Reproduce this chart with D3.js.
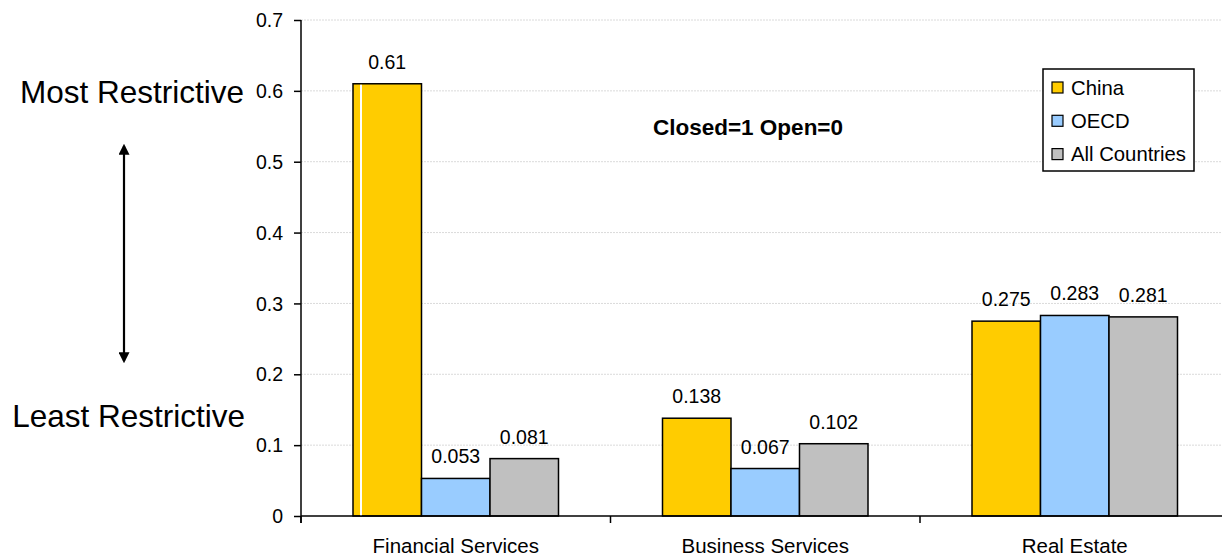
<!DOCTYPE html>
<html>
<head>
<meta charset="utf-8">
<script src="https://cdn.jsdelivr.net/npm/d3@7"></script>
<style>
  body { margin: 0; background: #fff; }
  svg text { font-family: "Liberation Sans", Arial, sans-serif; fill: #000; }
</style>
</head>
<body>
<div id="chart"></div>
<script>
// data
const categories = ["Financial Services", "Business Services", "Real Estate"];
const seriesNames = ["China", "OECD", "All Countries"];
const china = [0.61, 0.138, 0.275];
const oecd = [0.053, 0.067, 0.283];
const allCountries = [0.081, 0.102, 0.281];
const yTicks = [0, 0.1, 0.2, 0.3, 0.4, 0.5, 0.6, 0.7];
const colors = ["#FFCC00", "#99CCFF", "#C0C0C0"];

const seriesValues = [china, oecd, allCountries];
const rows = categories.map((c, i) => ({
    cat: c,
    vals: seriesNames.map((s, j) => ({series: s, value: seriesValues[j][i]}))
}));

const width = 1222, height = 557;
const svg = d3.select("#chart").append("svg")
    .attr("width", width)
    .attr("height", height);

// scales
const xScale = d3.scaleBand()
    .domain(categories)
    .range([301, 1229.5]);
const xInner = d3.scaleBand()
    .domain(seriesNames)
    .range([52, xScale.bandwidth() - 52]);
const yScale = d3.scaleLinear()
    .domain([0, 0.7])
    .range([516, 20]);

// gridlines
svg.append("g")
    .selectAll("line")
    .data(yTicks.filter(d => d > 0))
    .join("line")
    .attr("x1", 301).attr("x2", width)
    .attr("y1", d => yScale(d)).attr("y2", d => yScale(d))
    .attr("stroke", "#dadada")
    .attr("stroke-dasharray", "2,1");

// bars
const groups = svg.append("g").selectAll("g")
    .data(rows)
    .join("g")
    .attr("transform", d => "translate(" + xScale(d.cat) + ",0)");

groups.selectAll("rect")
    .data(d => d.vals)
    .join("rect")
    .attr("x", d => xInner(d.series))
    .attr("y", d => yScale(d.value))
    .attr("width", xInner.bandwidth())
    .attr("height", d => yScale(0) - yScale(d.value))
    .attr("fill", (d, i) => colors[i])
    .attr("stroke", "#000")
    .attr("stroke-width", 1.5);

// value labels
groups.selectAll("text")
    .data(d => d.vals)
    .join("text")
    .attr("x", d => xInner(d.series) + xInner.bandwidth() / 2)
    .attr("y", d => yScale(d.value) - 15)
    .attr("text-anchor", "middle")
    .style("font-size", "19.5px")
    .text(d => String(d.value));

// white streak inside the first China bar, as in the original image
svg.append("line")
    .attr("x1", xScale(categories[0]) + xInner("China") + 8)
    .attr("x2", xScale(categories[0]) + xInner("China") + 8)
    .attr("y1", yScale(china[0]) + 1)
    .attr("y2", yScale(0))
    .attr("stroke", "#fff")
    .attr("stroke-width", 2);

// y axis
const yAxis = svg.append("g")
    .attr("transform", "translate(301,0)")
    .call(d3.axisLeft(yScale).tickValues(yTicks).tickFormat(d => d === 0 ? "0" : d3.format(".1f")(d)).tickSize(7).tickPadding(11));
yAxis.select(".domain").attr("stroke", "#000").attr("stroke-width", 1.5)
    .attr("d", "M0," + yScale(0.7) + "V" + (yScale(0) + 7));
yAxis.selectAll(".tick line").attr("stroke", "#000").attr("stroke-width", 1.5);
yAxis.selectAll(".tick text").style("font-size", "19.5px").attr("dy", "0.34em");

// x axis with ticks between groups
const xEdges = categories.map(c => xScale(c)).concat([xScale.range()[1]]);
svg.append("line")
    .attr("x1", 301).attr("x2", width)
    .attr("y1", yScale(0)).attr("y2", yScale(0))
    .attr("stroke", "#000").attr("stroke-width", 1.5);
svg.append("g").selectAll("line")
    .data(xEdges)
    .join("line")
    .attr("x1", d => d).attr("x2", d => d)
    .attr("y1", yScale(0)).attr("y2", yScale(0) + 7)
    .attr("stroke", "#000").attr("stroke-width", 1.5);
svg.append("g").selectAll("text")
    .data(categories)
    .join("text")
    .attr("x", d => xScale(d) + xScale.bandwidth() / 2)
    .attr("y", 553)
    .attr("text-anchor", "middle")
    .style("font-size", "20.5px")
    .text(d => d);

// note
svg.append("text")
    .attr("x", 748).attr("y", 135)
    .attr("text-anchor", "middle")
    .style("font-size", "22.5px")
    .style("font-weight", "bold")
    .text("Closed=1 Open=0");

// legend
const legend = svg.append("g");
legend.append("rect")
    .attr("x", 1043).attr("y", 69)
    .attr("width", 151).attr("height", 102)
    .attr("fill", "#fff")
    .attr("stroke", "#000").attr("stroke-width", 1.5);
const items = legend.selectAll("g")
    .data(seriesNames)
    .join("g")
    .attr("transform", (d, i) => "translate(1052," + (82 + i * 33.3) + ")");
items.append("rect")
    .attr("width", 11).attr("height", 11)
    .attr("fill", (d, i) => colors[i])
    .attr("stroke", "#000").attr("stroke-width", 1.2);
items.append("text")
    .attr("x", 19).attr("y", 12.5)
    .style("font-size", "20.3px")
    .text(d => d);

// side annotation
svg.append("text")
    .attr("x", 244).attr("y", 103)
    .attr("text-anchor", "end")
    .style("font-size", "31.5px")
    .text("Most Restrictive");
svg.append("text")
    .attr("x", 245).attr("y", 427)
    .attr("text-anchor", "end")
    .style("font-size", "31.5px")
    .text("Least Restrictive");

const defs = svg.append("defs");
defs.append("marker")
    .attr("id", "head")
    .attr("viewBox", "0 0 10 10")
    .attr("refX", 8).attr("refY", 5)
    .attr("markerWidth", 5).attr("markerHeight", 5)
    .attr("orient", "auto-start-reverse")
    .append("path")
    .attr("d", "M0,0L10,5L0,10Z")
    .attr("fill", "#000");
svg.append("line")
    .attr("x1", 124).attr("x2", 124)
    .attr("y1", 146).attr("y2", 361)
    .attr("stroke", "#000").attr("stroke-width", 2.2)
    .attr("marker-start", "url(#head)")
    .attr("marker-end", "url(#head)");
</script>
</body>
</html>
